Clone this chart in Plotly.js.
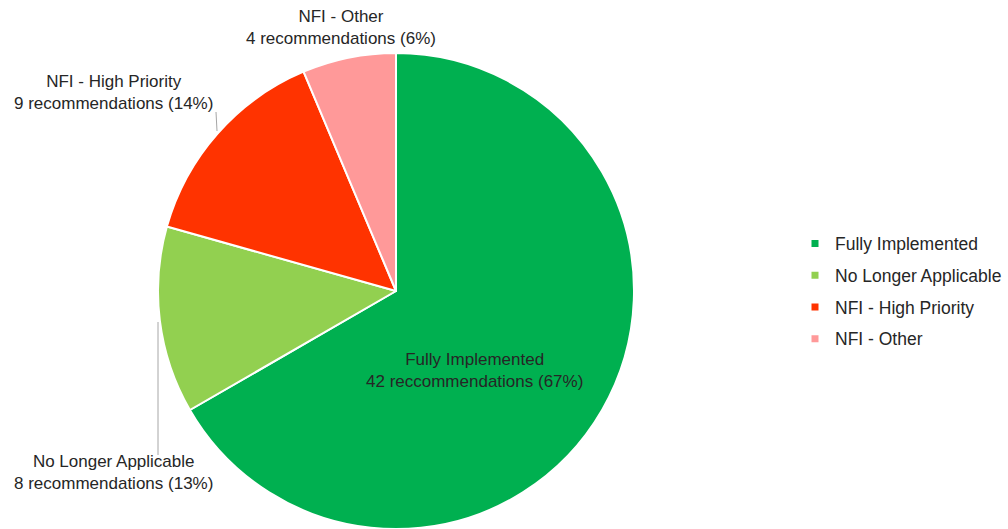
<!DOCTYPE html>
<html><head><meta charset="utf-8">
<script src="https://cdn.plot.ly/plotly-3.0.1.min.js"></script>
<style>html,body{margin:0;padding:0;background:#fff}#chart{width:1008px;height:529px}</style>
</head><body><div id="chart"></div>
<script>
const categories = ["Fully Implemented", "No Longer Applicable", "NFI - High Priority", "NFI - Other"];
const counts = [42, 8, 9, 4];
const countWords = ["reccommendations", "recommendations", "recommendations", "recommendations"];
const colors = ["#00B050", "#92D050", "#FF3300", "#FF9999"];

const W = 1008, H = 529;
const total = counts.reduce((a, b) => a + b, 0);
const labelText = categories.map((c, i) => c + "<br>" + counts[i] + " " + countWords[i] + " (" + Math.round(100 * counts[i] / total) + "%)");

// label anchor positions in pixels (text block centers)
const labelPos = [[474, 370], [113, 472], [113, 92], [341, 27]];
const font = {family: "Liberation Sans, Arial, sans-serif", size: 17, color: "#262626"};
const legendFont = {family: "Liberation Sans, Arial, sans-serif", size: 17.5, color: "#262626"};

const annotations = labelText.map((t, i) => ({
  text: t, xref: "paper", yref: "paper",
  x: labelPos[i][0] / W, y: 1 - labelPos[i][1] / H,
  xanchor: "center", yanchor: "middle", showarrow: false, font: font, align: "center"
}));

const px = (x) => x / W, py = (y) => 1 - y / H;
const shapes = [
  {type: "line", xref: "paper", yref: "paper", x0: px(158), y0: py(322), x1: px(158), y1: py(455), line: {color: "#A6A6A6", width: 1}},
  {type: "line", xref: "paper", yref: "paper", x0: px(216), y0: py(112), x1: px(217), y1: py(131), line: {color: "#A6A6A6", width: 1}}
];

const pie = {
  type: "pie", labels: categories, values: counts, sort: false, direction: "clockwise", rotation: 0,
  marker: {colors: colors, line: {color: "#FFFFFF", width: 2}},
  textinfo: "none", hoverinfo: "label+value+percent", showlegend: false,
  domain: {x: [158 / W, 634 / W], y: [0, 1 - 53 / H]}
};

// legend-only entries (one per category)
const legendTraces = categories.map((c, i) => ({
  type: "scatter", mode: "markers", x: [null], y: [null], name: c, legendgroup: "g" + i,
  marker: {symbol: "square", size: 7, color: colors[i]}, showlegend: true, hoverinfo: "skip"
}));

const layout = {
  width: W, height: H, margin: {l: 0, r: 0, t: 0, b: 0},
  paper_bgcolor: "#fff", plot_bgcolor: "rgba(0,0,0,0)",
  showlegend: true,
  xaxis: {visible: false}, yaxis: {visible: false},
  legend: {x: 795 / W, xanchor: "left", y: 1 - 291 / H, yanchor: "middle", font: legendFont, traceorder: "grouped", tracegroupgap: 6},
  annotations: annotations, shapes: shapes, font: font
};
Plotly.newPlot("chart", [pie].concat(legendTraces), layout, {displayModeBar: false, staticPlot: true});
</script></body></html>
